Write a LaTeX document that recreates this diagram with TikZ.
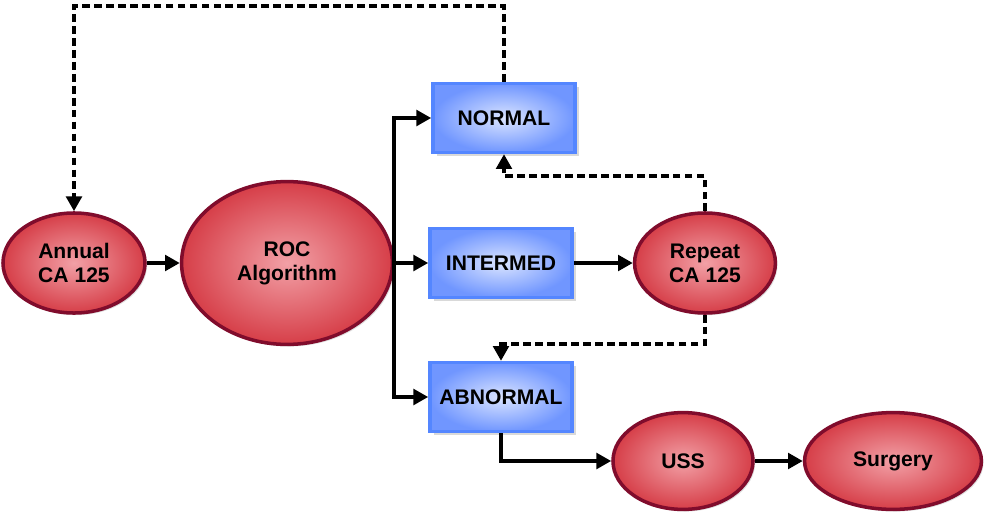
\documentclass[tikz,border=0pt]{standalone}
\usepackage{fontspec}
\setmainfont{Liberation Sans}
\usetikzlibrary{arrows.meta,shapes.geometric,shadows}
\definecolor{redin}{RGB}{242,160,166}
\definecolor{redout}{RGB}{214,62,72}
\definecolor{redline}{RGB}{128,12,44}
\definecolor{bluein}{RGB}{218,228,255}
\definecolor{blueout}{RGB}{112,150,255}
\definecolor{blueline}{RGB}{84,134,255}
\tikzset{
  oval/.style={ellipse, draw=redline, line width=2.5pt, inner color=redin, outer color=redout,
    drop shadow={opacity=0.25, shadow xshift=1.5pt, shadow yshift=-1.5pt},
    align=center, font=\fontsize{15}{17}\selectfont\bfseries, inner sep=0pt},
  result/.style={rectangle, draw=blueline, line width=2.5pt, inner color=bluein, outer color=blueout,
    drop shadow={opacity=0.3, shadow xshift=2.5pt, shadow yshift=-2.5pt},
    minimum width=3.55cm, minimum height=1.72cm, font=\fontsize{15}{17}\selectfont\bfseries},
  arr/.style={line width=2.9pt, -{Triangle[length=10.5pt,width=11pt]}},
  dotarr/.style={arr, dash pattern=on 5.5pt off 3pt}
}
\begin{document}
\begin{tikzpicture}[x=0.025cm, y=-0.025cm]
  \useasboundingbox (0,0) rectangle (988,520);

  \node[oval, minimum width=3.55cm, minimum height=2.5cm] (annual) at (74,263) {Annual\\CA 125};
  \node[oval, minimum width=5.27cm, minimum height=4.07cm] (roc) at (287,263) {ROC\\Algorithm};
  \node[result] (normal) at (504,118) {NORMAL};
  \node[result] (intermed) at (501,263) {INTERMED};
  \node[result] (abnormal) at (501,397) {ABNORMAL};
  \node[oval, minimum width=3.52cm, minimum height=2.5cm] (repeat) at (705,263) {Repeat\\CA 125};
  \node[oval, minimum width=3.5cm, minimum height=2.42cm] (uss) at (683,461) {USS};
  \node[oval, minimum width=4.42cm, minimum height=2.42cm] (surgery) at (893,461) {Surgery};

  \coordinate (split) at (394,263);
  \coordinate (topline) at (0,6);
  \coordinate (upline) at (0,176);
  \coordinate (downline) at (0,344);

  \draw[arr] (annual) -- (roc);
  \draw[line width=2.9pt] (roc.east) -- (split);
  \draw[arr] (split) |- (normal.west); %上
  \draw[arr] (split) -- (intermed.west); %中
  \draw[arr] (split) |- (abnormal.west); %下
  \draw[arr] (intermed) -- (repeat);
  \draw[arr] (abnormal.south) |- (uss.west);
  \draw[arr] (uss) -- (surgery);

  \draw[dotarr] (normal.north) -- (normal.north |- topline) -| (annual.north); %上の点線
  \draw[dotarr] (repeat.north) -- (repeat.north |- upline) -| (normal.south);
  \draw[dotarr] (repeat.south) -- (repeat.south |- downline) -| (abnormal.north);
\end{tikzpicture}
\end{document}
